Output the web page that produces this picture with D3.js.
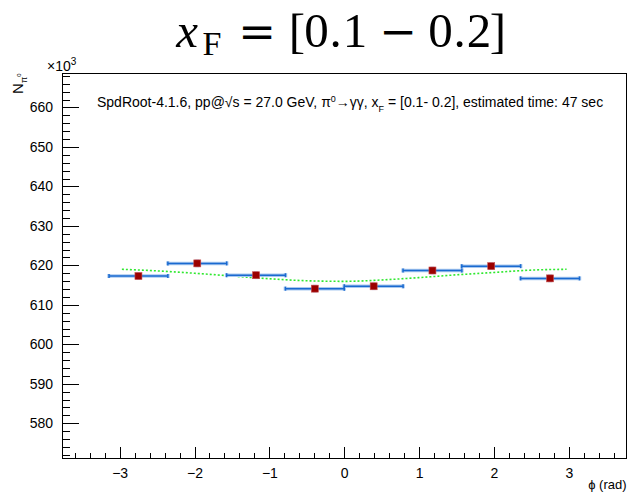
<!DOCTYPE html>
<html>
<head>
<meta charset="utf-8">
<script src="https://cdn.jsdelivr.net/npm/d3@7"></script>
<style>
  body { margin: 0; background: #fff; }
  text { font-family: "Liberation Sans", Arial, sans-serif; }
  .axis path, .axis line { stroke: #000; shape-rendering: crispEdges; }
  .axis text { font-size: 14px; fill: #000; }
</style>
</head>
<body>
<div id="chart"></div>
<script>
// bin centres (rad) and counts (x10^3)
var phiCenters = [-2.749, -1.963, -1.178, -0.393, 0.393, 1.178, 1.963, 2.749];
var binHalfWidth = [0.393, 0.393, 0.393, 0.393, 0.393, 0.393, 0.393, 0.393];
var counts = [617.3, 620.5, 617.5, 614.1, 614.7, 618.7, 619.8, 616.7];
var countErr = [0.79, 0.79, 0.79, 0.78, 0.78, 0.79, 0.79, 0.79];

// fit curve
var fitPhi = [-2.97, -2.5, -2.0, -1.5, -1.0, -0.5, 0, 0.5, 1.0, 1.5, 2.0, 2.5, 2.97];
var fitVal = [619.0, 618.6, 618.0, 617.3, 616.6, 616.1, 615.95, 616.3, 616.9, 617.6, 618.2, 618.8, 619.0];

var xMajor = [-3, -2, -1, 0, 1, 2, 3];
var yMajor = [580, 590, 600, 610, 620, 630, 640, 650, 660];

var W = 628, H = 496;
var margin = {top: 73.5, right: 1.5, bottom: 38, left: 62};
var width = W - margin.left - margin.right,
    height = H - margin.top - margin.bottom;

var svg = d3.select("#chart").append("svg")
    .attr("width", W)
    .attr("height", H);

// title, set glyph by glyph like the TeX one
var serif = "'Liberation Serif', 'DejaVu Serif', serif";
var mathSym = "'DejaVu Serif', serif";
var titleParts = [
  {t: "x", cx: 187, it: true},
  {t: "F", cx: 212, sub: true},
  {t: "=", cx: 257, sym: true},
  {t: "[", cx: 297},
  {t: "0", cx: 316.5},
  {t: ".", cx: 335.5},
  {t: "1", cx: 355},
  {t: "\u2212", cx: 398, sym: true},
  {t: "0", cx: 440.5},
  {t: ".", cx: 459.5},
  {t: "2", cx: 479},
  {t: "]", cx: 498}
];
svg.append("g").selectAll("text").data(titleParts).enter().append("text")
    .attr("x", function(d) { return d.cx; })
    .attr("y", function(d) { return d.sub ? 55 : 47; })
    .attr("text-anchor", "middle")
    .style("font-family", function(d) { return d.sym ? mathSym : serif; })
    .style("font-style", function(d) { return d.it ? "italic" : "normal"; })
    .style("font-size", function(d) { return d.sub ? "34px" : (d.sym ? "45px" : "49px"); })
    .text(function(d) { return d.t; });

var g = svg.append("g")
    .attr("transform", "translate(" + margin.left + "," + margin.top + ")");

var x = d3.scaleLinear().domain([-3.77, 3.77]).range([0, width]);
var y = d3.scaleLinear().domain([571.2, 668.6]).range([height, 0]);

// minor ticks
g.append("g").attr("class", "axis")
    .attr("transform", "translate(0," + height + ")")
    .call(d3.axisBottom(x).tickValues(d3.range(-3.6, 3.7, 0.2)).tickSize(-5).tickFormat(""))
    .select(".domain").remove();
g.append("g").attr("class", "axis")
    .call(d3.axisLeft(y).tickValues(d3.range(572, 669, 2)).tickSize(-8).tickFormat(""))
    .select(".domain").remove();

// major ticks
g.append("g").attr("class", "axis")
    .attr("transform", "translate(0," + height + ")")
    .call(d3.axisBottom(x).tickValues(xMajor).tickSize(-11).tickPadding(10).tickSizeOuter(0));
g.append("g").attr("class", "axis")
    .call(d3.axisLeft(y).tickValues(yMajor).tickSize(-17).tickPadding(9).tickSizeOuter(0));

// frame
g.append("rect")
    .attr("width", width).attr("height", height)
    .attr("fill", "none").attr("stroke", "#000").attr("stroke-width", 1)
    .style("shape-rendering", "crispEdges");

// axis titles
g.append("text")
    .attr("x", width)
    .attr("y", height + 31)
    .attr("text-anchor", "end")
    .style("font-size", "13px")
    .text("\u03d5 (rad)");

var yt = svg.append("text")
    .attr("transform", "translate(23," + margin.top + ")rotate(-90)")
    .attr("text-anchor", "end")
    .style("font-size", "15px");
yt.append("tspan").text("N");
yt.append("tspan").attr("dy", 4).style("font-size", "9px").text("\u03c0");
yt.append("tspan").attr("dy", -6).style("font-size", "6px").text("0");

var mult = svg.append("text")
    .attr("x", 47).attr("y", 71)
    .style("font-size", "14px");
mult.append("tspan").text("\u00d710");
mult.append("tspan").attr("dy", -6).style("font-size", "10px").text("3");

// annotation
var ann = g.append("text")
    .attr("x", 35).attr("y", 33)
    .style("font-size", "14px");
ann.append("tspan").text("SpdRoot-4.1.6, pp@\u221as = 27.0 GeV, \u03c0");
ann.append("tspan").attr("dy", -5).style("font-size", "9px").text("0");
ann.append("tspan").attr("dy", 5).text("\u2192\u03b3\u03b3, x");
ann.append("tspan").attr("dy", 5).style("font-size", "9px").text("F");
ann.append("tspan").attr("dy", -5).text(" = [0.1- 0.2], estimated time: 47 sec");

// fit
var line = d3.line()
    .x(function(d, i) { return x(fitPhi[i]); })
    .y(function(d) { return y(d); })
    .curve(d3.curveMonotoneX);
g.append("path")
    .attr("d", line(fitVal))
    .attr("fill", "none")
    .attr("stroke", "#2fe82f")
    .attr("stroke-width", 1.6)
    .attr("stroke-dasharray", "2,2");

// error bars
var idx = d3.range(counts.length);
var eb = g.append("g");
[["#aac9ef", 3.5], ["#1a6ad0", 1.5]].forEach(function(s) {
  var gg = eb.append("g").attr("stroke", s[0]).attr("stroke-width", s[1]).attr("fill", "none");
  idx.forEach(function(i) {
    var cx = x(phiCenters[i]), cy = y(counts[i]);
    var x0 = x(phiCenters[i] - binHalfWidth[i]), x1 = x(phiCenters[i] + binHalfWidth[i]);
    var y0 = y(counts[i] - countErr[i]), y1 = y(counts[i] + countErr[i]);
    gg.append("line").attr("x1", x0).attr("x2", x1).attr("y1", cy).attr("y2", cy);
    gg.append("line").attr("x1", x0).attr("x2", x0).attr("y1", cy - 2).attr("y2", cy + 2);
    gg.append("line").attr("x1", x1).attr("x2", x1).attr("y1", cy - 2).attr("y2", cy + 2);
    gg.append("line").attr("x1", cx).attr("x2", cx).attr("y1", y0 - 1).attr("y2", y1 + 1);
    gg.append("line").attr("x1", cx - 2).attr("x2", cx + 2).attr("y1", y0 - 1).attr("y2", y0 - 1);
    gg.append("line").attr("x1", cx - 2).attr("x2", cx + 2).attr("y1", y1 + 1).attr("y2", y1 + 1);
  });
});

// markers
g.append("g").selectAll("rect").data(idx).enter().append("rect")
    .attr("x", function(i) { return x(phiCenters[i]) - 3.5; })
    .attr("y", function(i) { return y(counts[i]) - 3.5; })
    .attr("width", 7).attr("height", 7)
    .attr("fill", "#9a0000")
    .attr("stroke", "#c85050")
    .attr("stroke-width", 0.6);
</script>
</body>
</html>
